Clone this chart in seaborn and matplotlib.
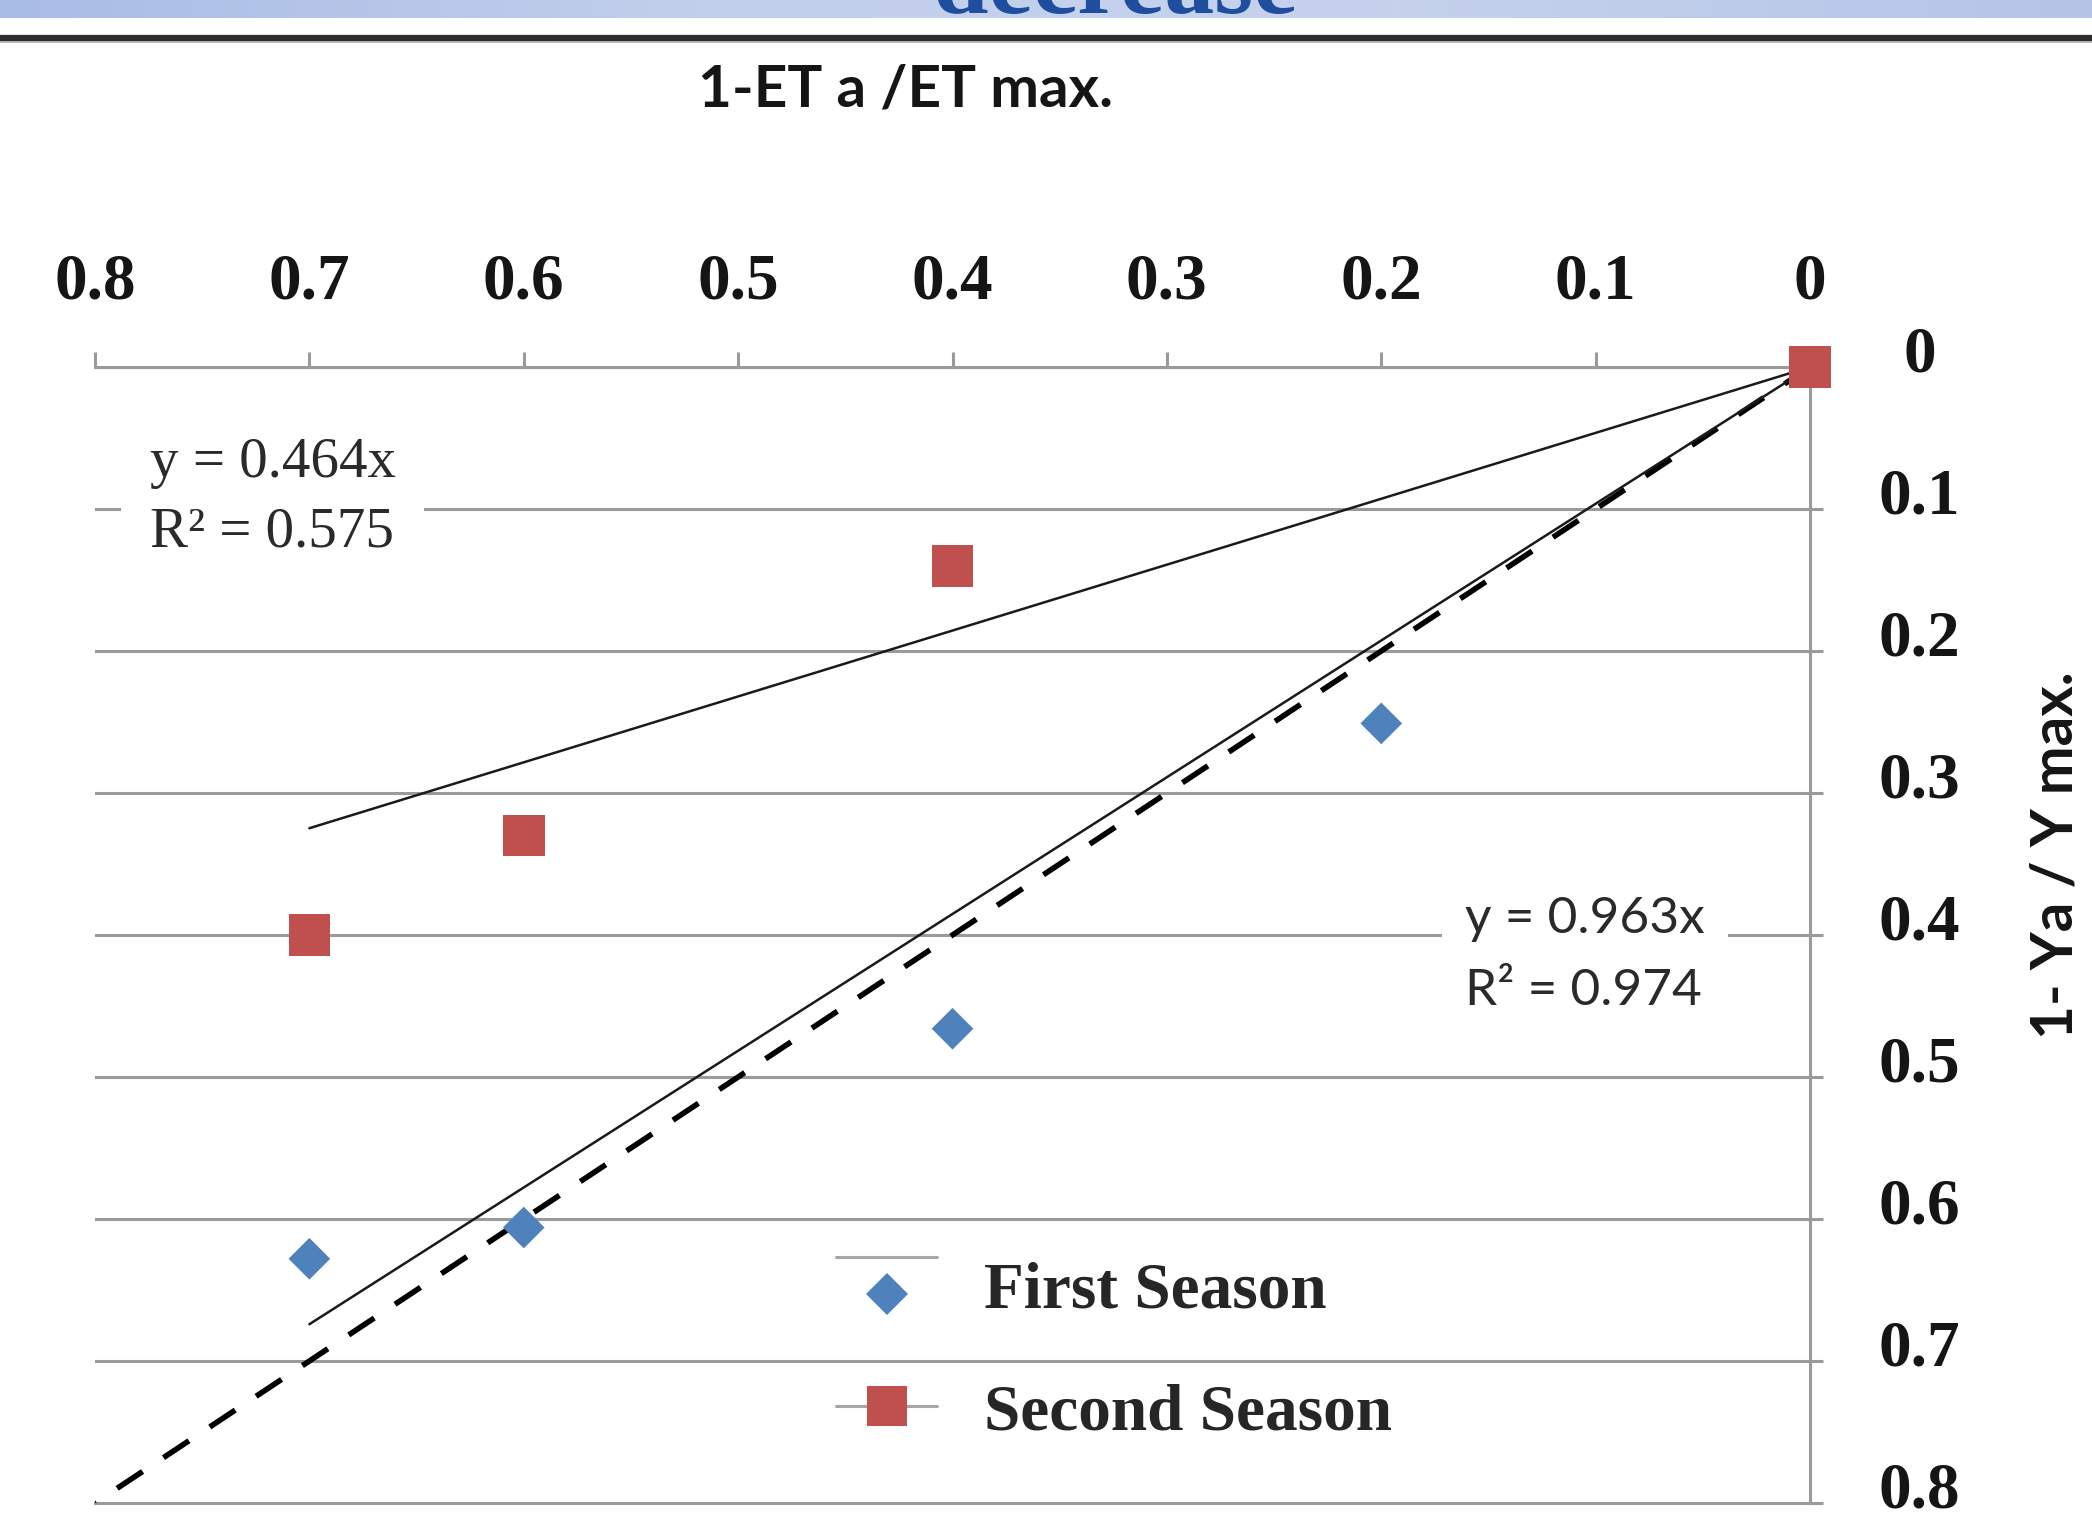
import numpy as np
import matplotlib
matplotlib.use("Agg")
import matplotlib.pyplot as plt
import seaborn as sns
from matplotlib.lines import Line2D
from matplotlib.colors import LinearSegmentedColormap
from matplotlib.legend_handler import HandlerLine2D, HandlerTuple
from matplotlib.transforms import ScaledTranslation

# Relative evapotranspiration deficit (1 - ETa/ETmax) vs relative yield decrease (1 - Ya/Ymax)
first_deficit = [0.0, 0.2, 0.4, 0.6, 0.7]
first_yield_loss = [0.0, 0.251, 0.466, 0.606, 0.628]
second_deficit = [0.0, 0.4, 0.6, 0.7]
second_yield_loss = [0.0, 0.14, 0.33, 0.40]

season_names = ["First Season", "Second Season"]
season_colors = ["#4f81bd", "#c0504d"]
trend_slopes = [0.963, 0.464]
trend_r2 = [0.974, 0.575]
trend_span = [0.0, 0.7]
one_to_one = [0.0, 0.8]

tick_values = [0.0, 0.1, 0.2, 0.3, 0.4, 0.5, 0.6, 0.7, 0.8]
tick_labels = ["0", "0.1", "0.2", "0.3", "0.4", "0.5", "0.6", "0.7", "0.8"]

x_title = "1-ET a /ET max."
y_title = "1- Ya / Y max."
header_word = "decrease"

sns.set_style("white")
plt.rcParams["font.family"] = ["Liberation Serif", "DejaVu Sans"]

W, H = 2092, 1520
fig = plt.figure(figsize=(W / 100, H / 100), dpi=100)
fig.patch.set_facecolor("white")

# slide header band with the title word running off the top edge, and a rule
band = fig.add_axes([0, 1 - 18 / H, 1, 18 / H])
grad = np.linspace(0, 1, 256).reshape(1, -1)
band_cmap = LinearSegmentedColormap.from_list("band", ["#a9bce6", "#c2cfec", "#c6d2ec", "#b4c5e8"])
band.imshow(grad, aspect="auto", cmap=band_cmap, extent=[0, 1, 0, 1])
band.set_axis_off()
fig.text(1115 / W, 1 - 13 / H, header_word, ha="center", va="baseline",
         fontsize=72, fontweight="bold", color="#1f4e9e", family="Liberation Serif")
fig.add_artist(Line2D([0, 1], [1 - 41 / H, 1 - 41 / H], transform=fig.transFigure,
                      color="#bdbdbd", lw=3))
fig.add_artist(Line2D([0, 1], [1 - 38 / H, 1 - 38 / H], transform=fig.transFigure,
                      color="#2e2e2e", lw=4.5))

# plotting area (axes reversed: origin at the top-right corner)
x0, x8 = 95, 1810
y0, y8 = 367, 1503
ax = fig.add_axes([x0 / W, (H - y8) / H, (x8 - x0) / W, (y8 - y0) / H])
ax.set_xlim(0.8, 0.0)
ax.set_ylim(0.8, 0.0)
ax.set_axisbelow(True)

grid_c = "#9a9a9a"
ax.yaxis.grid(True, color=grid_c, lw=2.2)
ax.xaxis.grid(False)
ax.spines["left"].set_visible(False)
for side in ["top", "right", "bottom"]:
    ax.spines[side].set_color(grid_c)
    ax.spines[side].set_linewidth(2.2)

# 1:1 reference line
sns.lineplot(x=one_to_one, y=one_to_one, ax=ax, color="black", lw=4,
             linestyle=(0, (5.5, 4.5)), legend=False, zorder=3)

# linear trend lines through the origin
span = np.array(trend_span)
for slope in trend_slopes:
    sns.lineplot(x=span, y=slope * span, ax=ax, color="#1a1a1a", lw=1.8,
                 legend=False, zorder=3)

sns.scatterplot(x=first_deficit, y=first_yield_loss, ax=ax, marker="D", s=450,
                color=season_colors[0], edgecolor="none", linewidth=0,
                clip_on=False, zorder=4, legend=False)
sns.scatterplot(x=second_deficit, y=second_yield_loss, ax=ax, marker="s", s=900,
                color=season_colors[1], edgecolor="none", linewidth=0,
                clip_on=False, zorder=5, legend=False)

# ticks on top and right
ax.xaxis.tick_top()
ax.set_xticks(tick_values)
ax.set_xticklabels(tick_labels)
ax.yaxis.tick_right()
ax.set_yticks(tick_values)
ax.set_yticklabels(tick_labels)
ax.tick_params(axis="x", direction="out", length=11, width=2.2, color=grid_c,
               pad=28, labelsize=47, labelcolor="#151515")
ax.tick_params(axis="y", direction="out", length=9, width=2.2, color=grid_c,
               pad=70, labelsize=47, labelcolor="#151515")
ax.set_xlabel("")
ax.set_ylabel("")
for lbl in ax.get_xticklabels() + ax.get_yticklabels():
    lbl.set_fontfamily("Liberation Serif")
    lbl.set_fontweight("bold")
lift = ScaledTranslation(0, 8 / 72, fig.dpi_scale_trans)
for lbl in ax.get_yticklabels():
    lbl.set_horizontalalignment("center")
    lbl.set_verticalalignment("center")
    lbl.set_transform(lbl.get_transform() + lift)

# axis titles
fig.text(906 / W, 1 - 90 / H, x_title, ha="center", va="center",
         fontsize=42, fontweight="bold", family="Lato", color="#151515")
fig.text(2056 / W, 1 - 855 / H, y_title, ha="center", va="center", rotation=90,
         fontsize=42, fontweight="bold", family="Lato", color="#151515")

# trend equations
eq_second = f"y = {trend_slopes[1]:.3f}x\nR\u00b2 = {trend_r2[1]:.3f}"
eq_first = f"y = {trend_slopes[0]:.3f}x\nR\u00b2 = {trend_r2[0]:.3f}"
ax.text(0.7744, 0.0920, eq_second, ha="left", va="center", fontsize=41,
        family="Liberation Serif", color="#2a2a2a", linespacing=1.43, zorder=2,
        bbox=dict(boxstyle="square,pad=0.5", fc="white", ec="none"))
ax.text(0.161, 0.414, eq_first, ha="left", va="center", fontsize=37,
        family="Lato", color="#2a2a2a", linespacing=1.72, zorder=2,
        bbox=dict(boxstyle="square,pad=0.45", fc="white", ec="none"))


class ShiftedLine(HandlerLine2D):
    """Legend line handler that moves its artist up or down by a fraction of the row."""

    def __init__(self, shift, **kw):
        super().__init__(**kw)
        self.shift = shift

    def create_artists(self, legend, orig_handle, xdescent, ydescent, width,
                       height, fontsize, trans):
        arts = super().create_artists(legend, orig_handle, xdescent, ydescent,
                                      width, height, fontsize, trans)
        for a in arts:
            a.set_ydata(np.asarray(a.get_ydata()) + self.shift * height)
        return arts


first_line = Line2D([], [], color="#a6a6a6", lw=2.2)
first_mark = Line2D([], [], ls="none", marker="D", markersize=21,
                    markerfacecolor=season_colors[0], markeredgewidth=0)
second_handle = Line2D([], [], color="#a6a6a6", lw=2.2, marker="s", markersize=29,
                       markerfacecolor=season_colors[1], markeredgewidth=0)
fig.legend([(first_line, first_mark), second_handle], season_names,
           handler_map={first_line: ShiftedLine(0.6), first_mark: ShiftedLine(-0.22),
                        tuple: HandlerTuple(ndivide=1)},
           loc="upper left", bbox_to_anchor=(836 / W, 1 - 1261 / H),
           frameon=False, borderpad=0, borderaxespad=0, handlelength=1.55,
           handletextpad=0.72, labelspacing=0.95,
           prop=dict(family="Liberation Serif", weight="bold", size=47))

fig.savefig("out.png", dpi=100, facecolor="white")
